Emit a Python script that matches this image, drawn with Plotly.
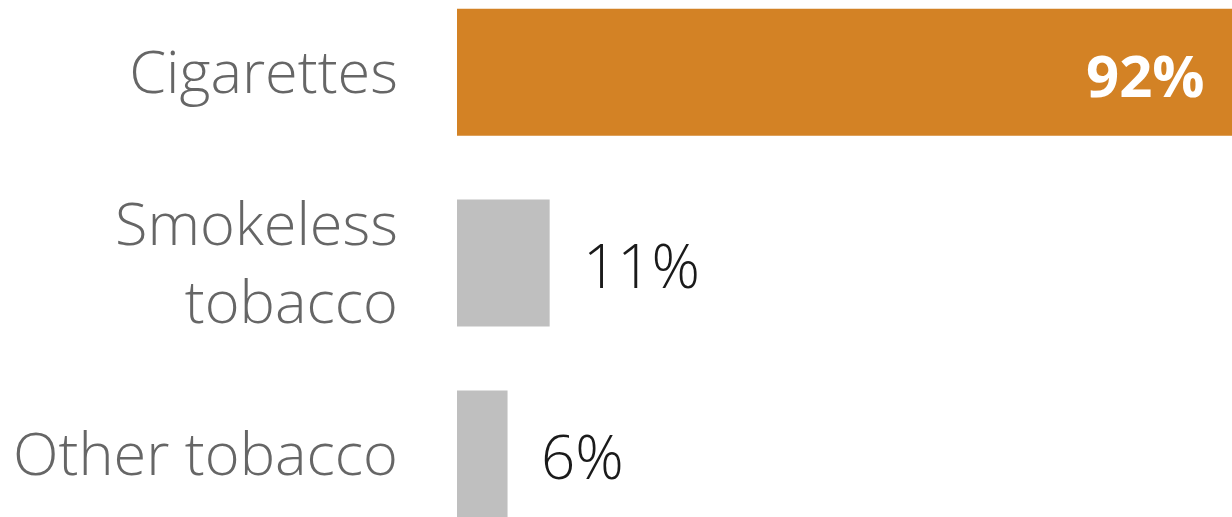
import plotly.graph_objects as go

# Share of tobacco users by product type
categories = ["Cigarettes", "Smokeless<br>tobacco", "Other tobacco"]
values = [92, 11, 6]
value_labels = ["92%", "11%", "6%"]
bar_colors = ["#D38225", "#BFBFBF", "#BFBFBF"]

FONT = "Open Sans"

fig = go.Figure(
    go.Bar(
        x=values,
        y=categories,
        orientation="h",
        marker=dict(color=bar_colors, line=dict(width=0)),
        width=0.665,
        hoverinfo="skip",
    )
)

# Value labels: inside the long bar, outside the short ones
for cat, val, lab in zip(categories, values, value_labels):
    inside = val > 50
    fig.add_annotation(
        x=val,
        y=cat,
        xref="x",
        yref="y",
        text=lab,
        showarrow=False,
        xanchor="right" if inside else "left",
        yanchor="middle",
        xshift=-25 if inside else 31,
        yshift=-2,
        font=dict(
            family=FONT,
            size=58 if inside else 60,
            color="#FFFFFF" if inside else "#1A1A1A",
            weight="bold" if inside else 300,
        ),
    )

fig.update_layout(
    width=1232,
    height=517,
    margin=dict(l=457, r=0, t=0, b=0, pad=0),
    paper_bgcolor="white",
    plot_bgcolor="white",
    showlegend=False,
    xaxis=dict(
        range=[0, 92],
        visible=False,
        fixedrange=True,
    ),
    yaxis=dict(
        type="category",
        categoryorder="array",
        categoryarray=categories,
        range=[2.33, -0.378],
        showgrid=False,
        zeroline=False,
        showline=False,
        ticks="",
        ticklabelstandoff=58,
        tickfont=dict(family=FONT, size=59.5, color="#666666", weight=300),
        fixedrange=True,
    ),
)

fig.write_html("out.html")
